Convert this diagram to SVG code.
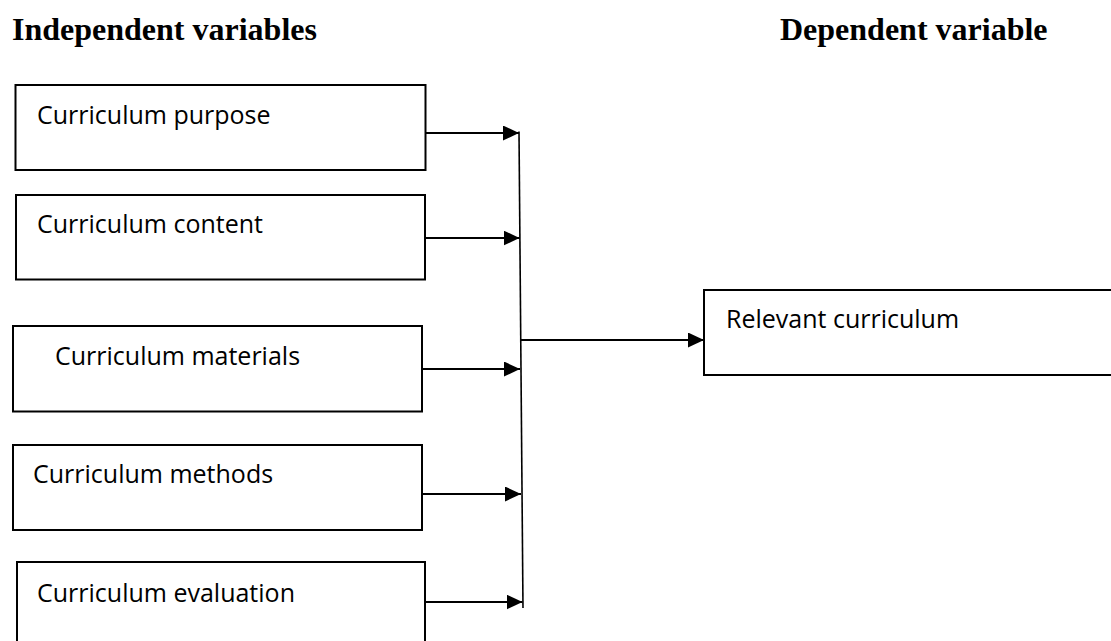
<svg xmlns="http://www.w3.org/2000/svg" width="1111" height="641" viewBox="0 0 1111 641">
  <style>
    .title { font-family: "Liberation Serif", "Times New Roman", serif; font-weight: bold; font-size: 32px; fill: #000; }
    .box { fill: #fff; stroke: #000; stroke-width: 2; }
    .label { font-family: "Open Sans", "Noto Sans", sans-serif; font-size: 25px; fill: #000; }
    .conn { stroke: #000; stroke-width: 2; fill: none; }
    .bar { stroke: #000; stroke-width: 1.6; fill: none; }
  </style>
  <defs>
    <marker id="arrow" viewBox="0 0 16 15" refX="16" refY="7.5" markerWidth="16" markerHeight="15" markerUnits="userSpaceOnUse" orient="auto">
      <path d="M0,0 L16,7.5 L0,15 z" fill="#000"/>
    </marker>
  </defs>
  <rect width="1111" height="641" fill="#fff"/>

  <text class="title" x="12" y="40">Independent variables</text>
  <text class="title" x="780" y="40">Dependent variable</text>

  <g id="node-purpose">
    <rect class="box" x="15.5" y="85" width="410" height="85"/>
    <text class="label" x="37" y="124">Curriculum purpose</text>
  </g>
  <g id="node-content">
    <rect class="box" x="16" y="195" width="409" height="84.5"/>
    <text class="label" x="37" y="233">Curriculum content</text>
  </g>
  <g id="node-materials">
    <rect class="box" x="13" y="326" width="409" height="85.5"/>
    <text class="label" x="55" y="365">Curriculum materials</text>
  </g>
  <g id="node-methods">
    <rect class="box" x="13" y="445" width="409" height="85"/>
    <text class="label" x="33" y="483">Curriculum methods</text>
  </g>
  <g id="node-evaluation">
    <rect class="box" x="17" y="562" width="408" height="100"/>
    <text class="label" x="37" y="602">Curriculum evaluation</text>
  </g>
  <g id="node-relevant">
    <rect class="box" x="704" y="290" width="420" height="85"/>
    <text class="label" x="726" y="328">Relevant curriculum</text>
  </g>

  <g id="connectors">
    <line class="conn" x1="425.5" y1="133" x2="519" y2="133" marker-end="url(#arrow)"/>
    <line class="conn" x1="425" y1="238" x2="519.5" y2="238" marker-end="url(#arrow)"/>
    <line class="conn" x1="422" y1="369" x2="520" y2="369" marker-end="url(#arrow)"/>
    <line class="conn" x1="422" y1="494" x2="521" y2="494" marker-end="url(#arrow)"/>
    <line class="conn" x1="425" y1="602" x2="522.5" y2="602" marker-end="url(#arrow)"/>
    <line class="bar" x1="519" y1="131.5" x2="523" y2="608"/>
    <line class="conn" x1="520.5" y1="340" x2="704" y2="340" marker-end="url(#arrow)"/>
  </g>
</svg>
